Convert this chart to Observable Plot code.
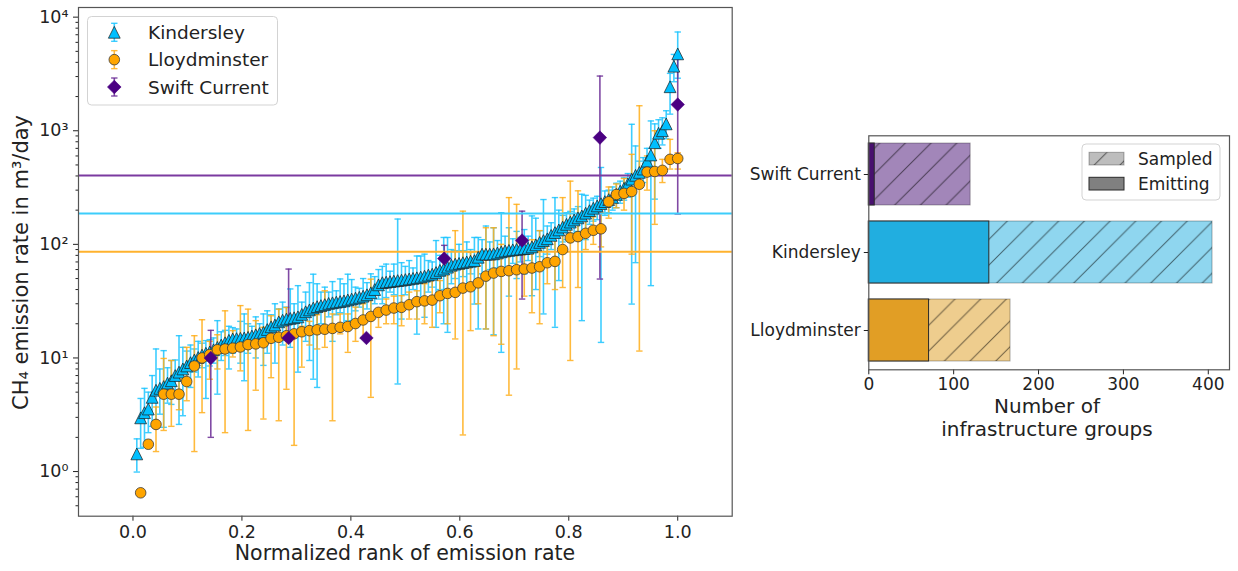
<!DOCTYPE html>
<html><head><meta charset="utf-8">
<script src="https://cdn.jsdelivr.net/npm/d3@7"></script>
<script src="https://cdn.jsdelivr.net/npm/@observablehq/plot@0.6"></script>
<style>
body{margin:0;background:#fff;font-family:"DejaVu Sans",sans-serif;}
#wrap{position:relative;width:1238px;height:571px;overflow:hidden;background:#fff;}
#wrap > *{position:absolute;}
</style></head><body><div id="wrap"></div>
<script>
// ---------------- data ----------------
const siteNames = ["Kindersley", "Lloydminster", "Swift Current"];

const kindersley = [1.43, 2.97, 3.3, 3.55, 4.5, 5.2, 5.4, 5.6, 6.0, 6.3,
 7.0, 7.5, 8.0, 8.5, 9.1, 9.6, 10.1, 10.6, 11.0, 11.3,
 11.8, 12.4, 13.0, 13.6, 14.3, 14.7, 14.8, 14.9, 15.0, 15.2,
 15.6, 16.0, 16.4, 16.8, 17.8, 18.8, 19.5, 20.8, 21.5, 22.0,
 22.3, 22.6, 23.0, 24.2, 25.5, 26.5, 27.5, 28.3, 28.9, 29.5,
 30.2, 30.6, 31.0, 31.4, 31.8, 32.4, 33.0, 33.6, 34.2, 35.0,
 36.0, 37.5, 40, 44, 46, 46.5, 47, 47.5, 48, 48.4,
 49, 49.6, 50.2, 50.8, 51.5, 52.5, 53.6, 54.6, 56.5, 59,
 60.6, 63, 65.5, 67, 68, 69, 70, 71, 72, 77,
 82, 82, 82, 82.5, 84, 86, 87.5, 88.5, 89.5, 90.3,
 91, 91.8, 92.5, 95, 99, 104, 108, 112, 120, 127,
 134, 142, 150, 157, 164, 171, 178, 188, 198, 208,
 218, 228, 238, 248, 259, 275, 294, 312, 340, 375,
 405, 430, 460, 540, 612, 785, 950, 1000, 1150, 2440,
 3700, 4750];
const kindersleyLo = [0.99, 1.6, 1.64, 2.2, 2.5, 2.45, 3.2, 2.45, 4.0, 3.9,
 4.8, 2.6, 3.1, 6.0, 5.5, 7.5, 6.8, 8.2, 4.4, 8.5,
 9.0, 4.8, 9.5, 10.5, 8.0, 11, 12, 9.0, 6.3, 11,
 12.5, 10, 13, 8.6, 11, 14, 9.0, 15, 13, 17,
 12.4, 16, 7.5, 18, 14, 9.5, 6.5, 5.5, 20, 17,
 23, 14, 24, 25, 19, 21.3, 21, 26, 28, 22,
 27, 24, 30, 33, 30, 34, 38, 36, 5.9, 22,
 36, 30, 40, 16.2, 30, 22.8, 38, 42, 18.6, 40,
 20, 16.8, 45, 50, 38, 52, 40, 55, 29.8, 18,
 55, 18, 60, 16, 62, 11.2, 58, 35, 68, 50,
 70, 55, 72, 35.3, 40, 78, 24.4, 82, 90, 18.6,
 48, 105, 110, 120, 125, 130, 21.3, 110, 150, 160,
 165, 13.7, 180, 190, 200, 210, 230, 245, 260, 29.8,
 69, 330, 350, 400, 43.3, 250, 700, 750, 850, 1400,
 2700, 2900];
const kindersleyHi = [1.94, 4.4, 5.4, 5.0, 7.0, 12, 8.0, 11.6, 8.2, 9.5,
 9.6, 15.7, 12.4, 11.5, 13, 12, 14, 13.5, 14.2, 14.5,
 15, 21.3, 17, 17.5, 19, 18.5, 18, 21, 24.4, 20,
 19, 23, 20, 24.4, 26, 24, 30, 27, 31, 28,
 40.5, 30, 43.3, 31, 38, 46, 54.6, 45, 38, 42,
 38, 47, 39, 49.6, 45, 54.6, 49, 42, 41, 50,
 46, 55, 52, 60, 64, 67, 58, 67, 167, 69,
 64, 72, 62, 79, 79, 82, 72, 70, 108, 80,
 115, 115, 90, 88, 100, 88, 105, 90, 115, 115,
 110, 145, 105, 140, 108, 190, 118, 140, 112, 130,
 115, 135, 118, 178, 170, 132, 248, 145, 155, 258,
 200, 180, 190, 195, 205, 215, 276, 270, 245, 255,
 265, 475, 295, 300, 320, 345, 360, 385, 420, 1140,
 735, 540, 580, 700, 1220, 1150, 1250, 1300, 1500, 3200,
 4700, 7400];

const lloydminster = [0.65, 1.74, 2.6, 4.8, 4.8, 4.8, 6.2, 8.5, 10.0, 10.7,
 11.8, 12.0, 12.2, 12.5, 13.1, 13.3, 13.6, 14.9, 15.2, 15.7,
 16.3, 17.0, 17.4, 17.7, 17.9, 18.2, 18.6, 18.9, 20.1, 21.6,
 23.2, 25.2, 26.4, 27.5, 27.9, 29.4, 31.3, 31.8, 32.3, 35.3,
 37.0, 37.8, 41.2, 42.3, 45.8, 52.5, 55.9, 57.8, 58.6, 59.8,
 60.6, 61.9, 63.5, 68.9, 70.8, 90, 114, 117, 125, 133,
 137, 237, 275, 281, 292, 338, 433, 438, 448, 560,
 570];
const lloydminsterLo = [0.65, 1.6, 1.5, 2.3, 2.5, 3.5, 4.2, 1.5, 3.3, 6.5,
 8.0, 2.2, 10.2, 7.7, 2.3, 5.2, 2.9, 6.7, 2.8, 5.3,
 1.7, 8.3, 13, 12, 12.4, 2.8, 16.3, 11.2, 14, 15,
 4.5, 18.6, 20, 20, 19.2, 22, 22, 20, 18.6, 25,
 20, 14.7, 2.1, 17.4, 30, 18, 15.7, 13.2, 4.7, 8.0,
 35, 25, 20, 45, 40, 41.7, 9.5, 41.7, 90, 100,
 95, 170, 210, 200, 82, 11.5, 300, 150, 350, 460,
 460];
const lloydminsterHi = [0.65, 1.9, 3.7, 9.9, 9.5, 6.5, 12.4, 15.7, 21.7, 14,
 16, 26, 17.4, 28.9, 26.9, 21.3, 18.6, 23.5, 26.9, 27.8,
 17.4, 19, 21, 24, 39, 24.4, 24.4, 24.4, 28, 30,
 49.4, 26.9, 33, 35, 35.3, 38, 39, 45, 51, 48,
 60, 132, 196, 85, 65, 140, 140, 100, 258, 225,
 95, 110, 132, 100, 115, 258, 360, 296, 170, 175,
 190, 320, 340, 380, 620, 1660, 600, 1000, 560, 840,
 640];

const swiftCurrent = [10, 15, 15, 75, 108, 870, 1700];
const swiftCurrentLo = [2.0, 14, 15, 60, 33, 49.5, 185];
const swiftCurrentHi = [17.5, 60.6, 15, 98, 196, 3030, 4300];

// horizontal reference lines (order: Swift Current, Kindersley, Lloydminster)
const lineSites = ["Swift Current", "Kindersley", "Lloydminster"];
const lineValues = [403, 187, 86];

// bar chart
const barSites = ["Swift Current", "Kindersley", "Lloydminster"];
const sampledCounts = [120, 405, 167];
const emittingCounts = [7, 142, 71];

// ticks
const xTicks = [0, 0.2, 0.4, 0.6, 0.8, 1.0];
const yMajorTicks = [1, 10, 100, 1000, 10000];
const yMinorTicks = [0.5,0.6,0.7,0.8,0.9, 2,3,4,5,6,7,8,9, 20,30,40,50,60,70,80,90,
  200,300,400,500,600,700,800,900, 2000,3000,4000,5000,6000,7000,8000,9000];
const barTicks = [0, 100, 200, 300, 400];

// ---------------- styles ----------------
const markerFill = {"Kindersley": "#00bfff", "Lloydminster": "#ffa500", "Swift Current": "#4b0082"};
const barLineColor = {"Kindersley": "#1cc4ff", "Lloydminster": "#ffae1a", "Swift Current": "#6a2a94"};
const refLineColor = {"Swift Current": "#7b3aa0", "Kindersley": "#3ccdfb", "Lloydminster": "#ffb22e"};
const sampledFill = {"Swift Current": "#a286b9", "Kindersley": "#8fd6ef", "Lloydminster": "#eecd8e"};
const emittingFill = {"Swift Current": "#48106f", "Kindersley": "#21aee0", "Lloydminster": "#e19e25"};

const tri = {draw(c){ c.moveTo(0,-5.9); c.lineTo(5.9,5.9); c.lineTo(-5.9,5.9); c.closePath(); }};
const dia = {draw(c){ c.moveTo(0,-6.8); c.lineTo(6.8,0); c.lineTo(0,6.8); c.lineTo(-6.8,0); c.closePath(); }};
const cap = {draw(c){ c.moveTo(-3.2,0); c.lineTo(3.2,0); }};

const series = {
  "Kindersley": [kindersley, kindersleyLo, kindersleyHi],
  "Lloydminster": [lloydminster, lloydminsterLo, lloydminsterHi],
  "Swift Current": [swiftCurrent, swiftCurrentLo, swiftCurrentHi]
};
const rows = {};
for (const s of siteNames) {
  const [v, lo, hi] = series[s];
  rows[s] = v.map((val, i) => ({site: s, rank: (i + 1) / v.length, value: val, lo: lo[i], hi: hi[i]}));
}

const wrap = document.getElementById("wrap");
const FONT = "DejaVu Sans, sans-serif";

// hatch pattern defs
const defs = d3.select(wrap).append("svg").attr("width", 0).attr("height", 0).style("left", "0px").style("top", "0px").append("defs");
function hatch(id, color) {
  const p = defs.append("pattern").attr("id", id).attr("patternUnits", "userSpaceOnUse").attr("width", 25.7).attr("height", 25.7);
  p.append("rect").attr("width", 25.7).attr("height", 25.7).attr("fill", color);
  p.append("path").attr("d", "M-6.4,6.4L6.4,-6.4M0,25.7L25.7,0M19.3,32.1L32.1,19.3").attr("stroke", "rgba(0,0,0,0.55)").attr("stroke-width", 1);
}
barSites.forEach((s, i) => hatch("hatch" + i, sampledFill[s]));
hatch("hatchLegend", "#bdbdbd");

// ---------------- left plot ----------------
const supMap = {"0": "\u2070", "1": "\u00b9", "2": "\u00b2", "3": "\u00b3", "4": "\u2074"};
const leftMarks = [];
for (const s of siteNames) {
  leftMarks.push(Plot.ruleX(rows[s], {x: "rank", y1: "lo", y2: "hi", stroke: barLineColor[s], strokeWidth: 1.6, strokeOpacity: 0.85}));
  leftMarks.push(Plot.dot(rows[s], {x: "rank", y: "lo", symbol: cap, fill: "none", stroke: barLineColor[s], strokeWidth: 1.4, strokeOpacity: 0.85}));
  leftMarks.push(Plot.dot(rows[s], {x: "rank", y: "hi", symbol: cap, fill: "none", stroke: barLineColor[s], strokeWidth: 1.4, strokeOpacity: 0.85}));
}
lineSites.forEach((s, i) => leftMarks.push(Plot.ruleY([lineValues[i]], {stroke: refLineColor[s], strokeWidth: 2})));
leftMarks.push(Plot.dot(rows["Kindersley"], {x: "rank", y: "value", symbol: tri, fill: markerFill["Kindersley"], stroke: "#1b1b1b", strokeWidth: 0.7}));
leftMarks.push(Plot.dot(rows["Lloydminster"], {x: "rank", y: "value", r: 5.3, fill: markerFill["Lloydminster"], stroke: "#3a3a3a", strokeWidth: 0.8}));
leftMarks.push(Plot.dot(rows["Swift Current"], {x: "rank", y: "value", symbol: dia, fill: markerFill["Swift Current"], stroke: "#4b0082", strokeWidth: 0.5}));
leftMarks.push(Plot.axisX({ticks: xTicks, tickFormat: d3.format(".1f"), tickSize: 5, tickPadding: 4, label: null, fontSize: 17.5}));
leftMarks.push(Plot.axisY({ticks: yMinorTicks, tickFormat: () => "", tickSize: 2.5, label: null}));
leftMarks.push(Plot.axisY({ticks: yMajorTicks, tickFormat: d => "10" + supMap[String(Math.round(Math.log10(d)))], tickSize: 5, tickPadding: 5, label: null, fontSize: 17.5}));
leftMarks.push(Plot.frame({stroke: "#555", strokeWidth: 1.2}));

const left = Plot.plot({
  width: 740, height: 571,
  marginLeft: 78, marginRight: 8.3, marginTop: 7, marginBottom: 55.3,
  style: {fontFamily: FONT, fontSize: "17.5px", color: "#222", background: "transparent", overflow: "visible"},
  x: {domain: [-0.1, 1.1]},
  y: {type: "log", domain: [0.4046, 12160]},
  marks: leftMarks
});
left.style.left = "0px"; left.style.top = "0px";
wrap.appendChild(left);

// ---------------- right plot ----------------
const rightMarks = [];
barSites.forEach((s, i) => {
  rightMarks.push(Plot.barX([i], {x1: () => 0, x2: j => sampledCounts[j], y: j => barSites[j], fill: `url(#hatch${i})`, stroke: "rgba(0,0,0,0.3)", strokeWidth: 1}));
});
barSites.forEach((s, i) => {
  rightMarks.push(Plot.barX([i], {x1: () => 0, x2: j => emittingCounts[j], y: j => barSites[j], fill: emittingFill[s], stroke: "#2a2a2a", strokeWidth: 1}));
});
rightMarks.push(Plot.axisY({tickSize: 4.5, tickPadding: 3.5, label: null, fontSize: 17}));
rightMarks.push(Plot.axisX({ticks: barTicks, tickSize: 5, tickPadding: 3.5, label: null, fontSize: 17}));
rightMarks.push(Plot.frame({stroke: "#555", strokeWidth: 1.2}));

const right = Plot.plot({
  width: 498, height: 571,
  marginLeft: 128.3, marginRight: 9, marginTop: 135.3, marginBottom: 201.7,
  style: {fontFamily: FONT, fontSize: "17px", color: "#222", background: "transparent", overflow: "visible"},
  x: {domain: [0, 425]},
  y: {domain: barSites, paddingInner: 0.2, paddingOuter: 0.1},
  marks: rightMarks
});
right.style.left = "740px"; right.style.top = "0px";
wrap.appendChild(right);

// ---------------- overlay: labels & legends ----------------
const ov = d3.select(wrap).append("svg").attr("width", 1238).attr("height", 571)
  .style("left", "0px").style("top", "0px").style("font-family", FONT).style("fill", "#222");

ov.append("text").attr("transform", "translate(21,262.5) rotate(-90)").attr("text-anchor", "middle")
  .attr("dominant-baseline", "central").attr("font-size", 21).text("CH\u2084 emission rate in m\u00b3/day");
ov.append("text").attr("x", 405).attr("y", 560).attr("text-anchor", "middle").attr("font-size", 20.5)
  .text("Normalized rank of emission rate");
ov.append("text").attr("x", 1047).attr("y", 413).attr("text-anchor", "middle").attr("font-size", 20).text("Number of");
ov.append("text").attr("x", 1047).attr("y", 436).attr("text-anchor", "middle").attr("font-size", 20).text("infrastructure groups");

// left legend
ov.append("rect").attr("x", 87.5).attr("y", 16.5).attr("width", 190).attr("height", 88.5).attr("rx", 4)
  .attr("fill", "white").attr("fill-opacity", 0.85).attr("stroke", "#d3d3d3").attr("stroke-width", 1);
const legSym = {"Kindersley": tri, "Lloydminster": null, "Swift Current": dia};
siteNames.forEach((s, i) => {
  const cy = 32.3 + i * 27.35, cx = 114.3;
  const g = ov.append("g");
  g.append("line").attr("x1", cx).attr("x2", cx).attr("y1", cy - 9).attr("y2", cy + 9)
    .attr("stroke", barLineColor[s]).attr("stroke-width", 1.6).attr("stroke-opacity", 0.85);
  [cy - 9, cy + 9].forEach(yy => g.append("line").attr("x1", cx - 3.2).attr("x2", cx + 3.2).attr("y1", yy).attr("y2", yy)
    .attr("stroke", barLineColor[s]).attr("stroke-width", 1.4).attr("stroke-opacity", 0.85));
  if (legSym[s]) {
    const path = d3.path(); legSym[s].draw(path);
    g.append("path").attr("transform", `translate(${cx},${cy})`).attr("d", path.toString())
      .attr("fill", markerFill[s]).attr("stroke", s === "Kindersley" ? "#1b1b1b" : "#4b0082").attr("stroke-width", 0.7);
  } else {
    g.append("circle").attr("cx", cx).attr("cy", cy).attr("r", 5.3).attr("fill", markerFill[s]).attr("stroke", "#3a3a3a").attr("stroke-width", 0.8);
  }
  ov.append("text").attr("x", 148).attr("y", cy + 6.5).attr("font-size", 18.5).text(s);
});

// right legend
ov.append("rect").attr("x", 1082).attr("y", 144).attr("width", 138).attr("height", 56).attr("rx", 4)
  .attr("fill", "white").attr("fill-opacity", 0.85).attr("stroke", "#d3d3d3").attr("stroke-width", 1);
ov.append("rect").attr("x", 1089).attr("y", 152.3).attr("width", 35).attr("height", 12.7)
  .attr("fill", "url(#hatchLegend)").attr("stroke", "rgba(0,0,0,0.3)");
ov.append("rect").attr("x", 1089).attr("y", 177.3).attr("width", 35).attr("height", 12.7)
  .attr("fill", "#808080").attr("stroke", "#2a2a2a");
ov.append("text").attr("x", 1138).attr("y", 165).attr("font-size", 17).text("Sampled");
ov.append("text").attr("x", 1138).attr("y", 190).attr("font-size", 17).text("Emitting");
</script>
</body></html>
